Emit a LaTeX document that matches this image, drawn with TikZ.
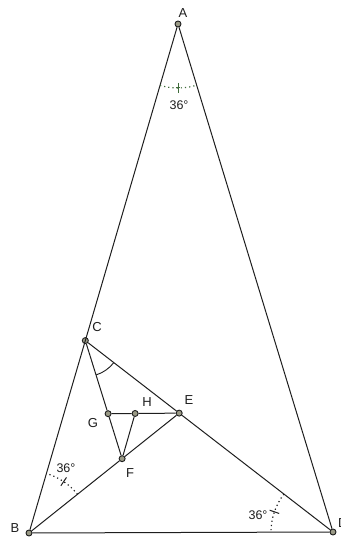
\documentclass[tikz,border=0pt]{standalone}
\usepackage{fontspec}
\setmainfont{Liberation Sans}
\usetikzlibrary{calc,angles}
\definecolor{inkline}{HTML}{1E1E1E}
\definecolor{ptfill}{HTML}{9A9A86}
\definecolor{markgreen}{HTML}{3F6B3A}

\begin{document}
\begin{tikzpicture}[
  x=1pt,y=1pt,
  pt/.style={circle,draw=inkline,fill=ptfill,line width=0.9pt,inner sep=0pt,minimum size=6pt},
  side/.style={draw=inkline,line width=1pt},
  lbl/.style={font=\fontsize{13}{15}\selectfont,text=inkline,inner sep=0pt},
  deg/.style={font=\fontsize{12.5}{14}\selectfont,text=inkline,inner sep=0pt},
  dotarc/.style={draw=inkline,line width=1.2pt,dash pattern=on 1.2pt off 3pt},
  tick/.style={draw=inkline,line width=1pt}
]
\useasboundingbox (0,0) rectangle (340,538);
\clip (0,0) rectangle (340,538);

% ---- POINTS ----
\node[pt] (A) at (178,514) {};
\node[pt] (B) at (29,5)    {};
\node[pt] (D) at (333,6)   {};
\node[pt] (C) at ($(A)!0.622!(B)$) {};
\node[pt] (E) at ($(C)!0.379!(D)$) {};
\node[pt] (F) at ($(B)!0.62!(E)$)  {};
\node[pt] (G) at ($(C)!0.619!(F)$) {};
\node[pt] (H) at ($(G)!0.38!(E)$)  {};

% ---- SIDES ----
\draw[side] (A) -- (B) -- (D) -- (A);
\draw[side] (C) -- (E) -- (D);
\draw[side] (B) -- (F) -- (E);
\draw[side] (C) -- (G) -- (F);
\draw[side] (G) -- (H) -- (E);
\draw[side] (H) -- (F);

% ---- ANGLE MARKS ----
\pic[dotarc,draw=markgreen,angle radius=64pt] {angle=B--A--D};
\draw[tick,markgreen] ($(A)+(270:59)$) -- ($(A)+(270:69)$);
\draw[tick,markgreen] ($(A)+(268:64)$) -- ($(A)+(272:64)$);

\pic[dotarc,angle radius=62pt] {angle=E--B--C};
\draw[tick] ($(B)+(56:57)$) -- ($(B)+(56:67)$);

\pic[dotarc,angle radius=62pt] {angle=C--D--B};
\draw[tick] ($(D)+(161:57)$) -- ($(D)+(161:67)$);

\pic[draw=inkline,line width=0.9pt,angle radius=36pt] {angle=F--C--E};

% ---- LABELS ----
\node[lbl] (lA) at (183,525) {A};
\node[lbl] (lB) at (15,10)   {B};
\node[lbl] (lC) at (97,211)  {C};
\node[lbl] (lE) at (189,138) {E};
\node[lbl] (lH) at (147,136) {H};
\node[lbl] (lG) at (93,115)  {G};
\node[lbl] (lF) at (130,65)  {F};
\node[lbl,anchor=west] (lD) at (338,15) {D};

\node[deg] (dA) at (179,433) {36°};
\node[deg] (dB) at (66,70)   {36°};
\node[deg] (dD) at (258,23)  {36°};

\end{tikzpicture}
\end{document}
